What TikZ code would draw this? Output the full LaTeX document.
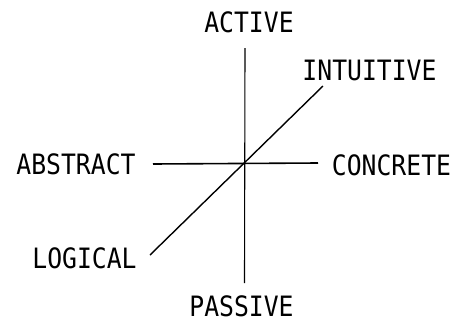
\documentclass[tikz,border=0pt]{standalone}
\usepackage{fontspec}
\newfontfamily\labelfont{DejaVu Sans Mono}
\usepackage{tikz}

\newcommand{\axislabel}[1]{\scalebox{0.97}[1.1]{#1}}

\begin{document}
\begin{tikzpicture}[x=1pt,y=-1pt,
    word/.style={inner sep=0pt,font=\labelfont\fontsize{25.5}{26}\selectfont},
    axis/.style={line width=1.1pt}]

        \useasboundingbox (0,0) rectangle (456,322);

        % Labels
        \node[word] (active)    at (249,22.5)  {\axislabel{ACTIVE}};
        \node[word] (passive)   at (241.5,306) {\axislabel{PASSIVE}};
        \node[word] (abstract)  at (76,164)    {\axislabel{ABSTRACT}};
        \node[word] (concrete)  at (391.5,165) {\axislabel{CONCRETE}};
        \node[word] (intuitive) at (369.5,70)  {\axislabel{INTUITIVE}};
        \node[word] (logical)   at (84.5,258)  {\axislabel{LOGICAL}};

        % Axis ends
        \coordinate (top)    at (245,48);
        \coordinate (bottom) at (244.5,283);
        \coordinate (left)   at (153,164);
        \coordinate (right)  at (318,163);
        \coordinate (upper)  at (323,86);
        \coordinate (lower)  at (150,255);

        % Axes
        \draw[axis] (top) -- (bottom);
        \draw[axis,line width=1.6pt] (left) -- (right);
        \draw[axis,line width=1.4pt] (lower) -- (upper);

    \end{tikzpicture}
\end{document}
